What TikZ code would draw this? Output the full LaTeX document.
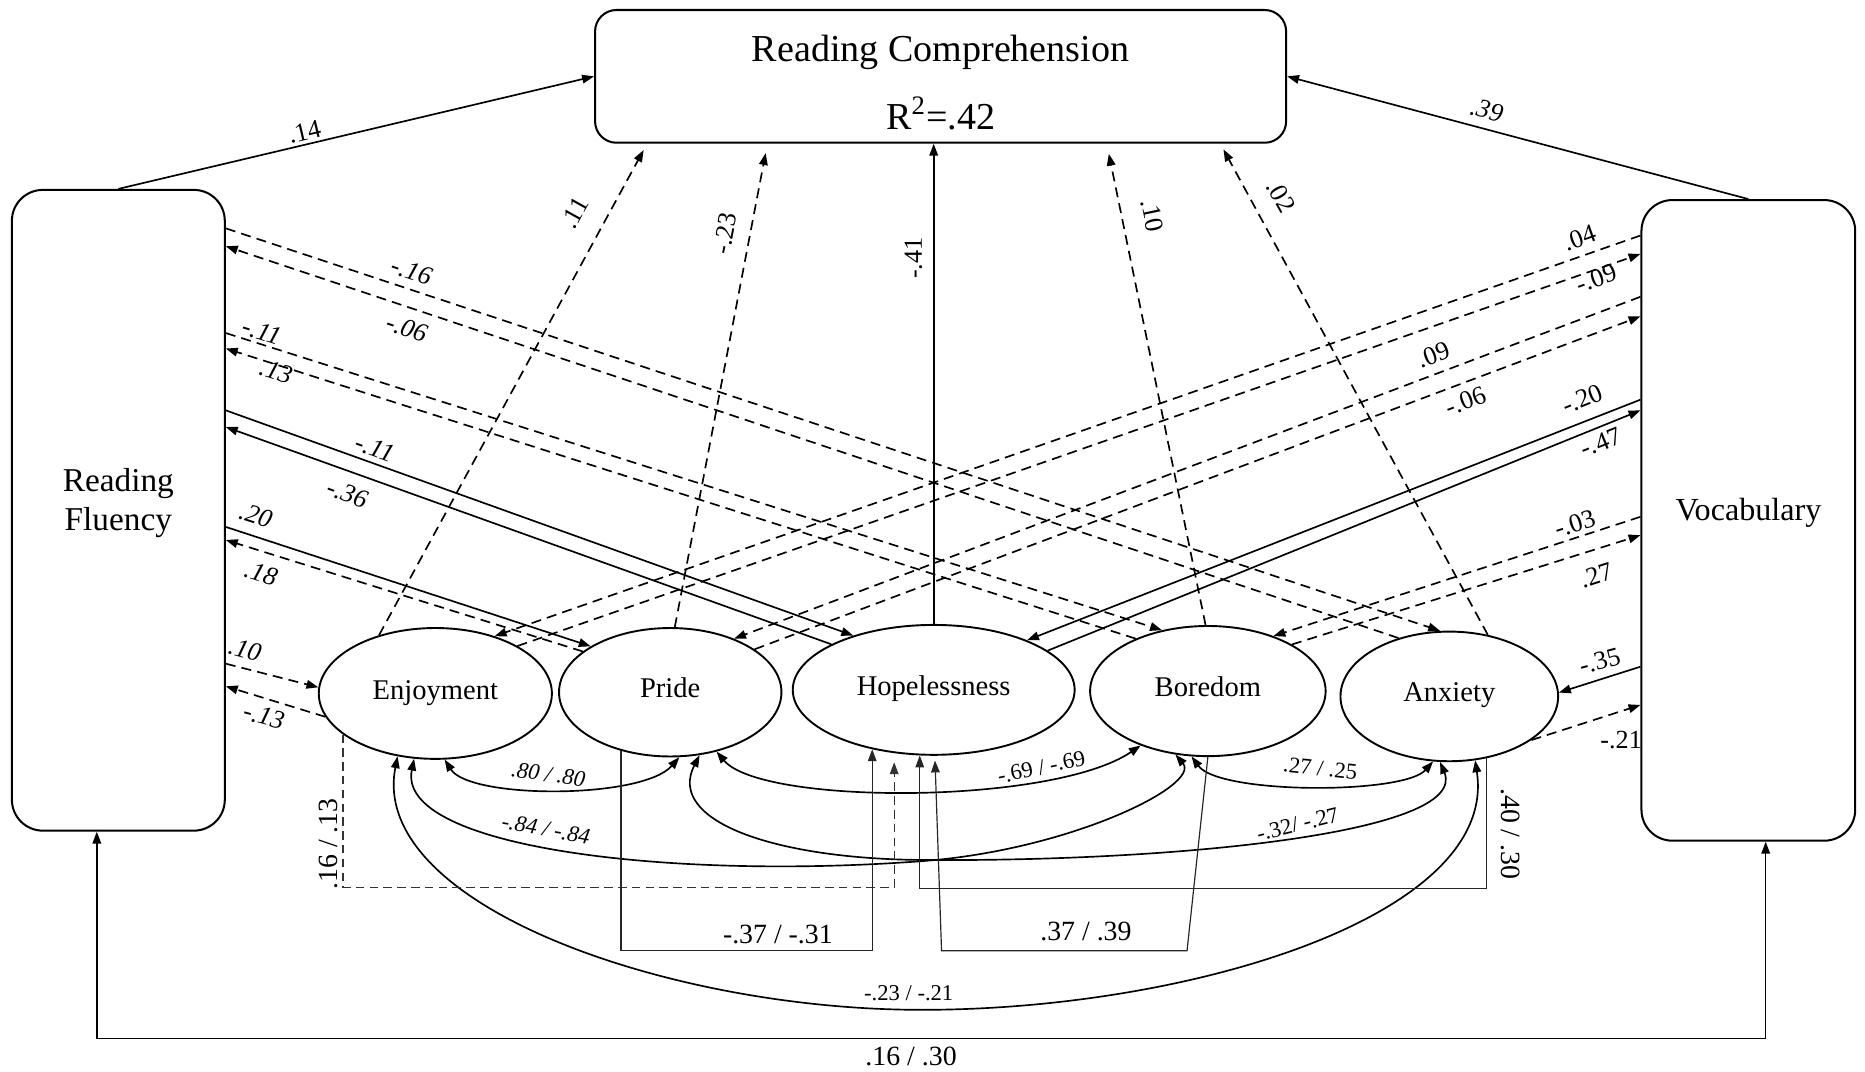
\documentclass[tikz,border=0pt]{standalone}
\usepackage{fontspec}
\setmainfont{Liberation Serif}
\usetikzlibrary{arrows.meta,shapes.geometric}
\begin{document}
\begin{tikzpicture}[x=0.5pt,y=-0.5pt,
  >={Triangle[length=5pt,width=3.6pt]},
  conn/.style={line width=0.7pt},
  dsh/.style={line width=0.7pt,dash pattern=on 4.2pt off 2.6pt},
  modline/.style={line width=0.5pt,black!85},
  moddash/.style={line width=0.55pt,black!80,dash pattern=on 3.6pt off 2.2pt},
  box/.style={draw,line width=0.85pt,inner sep=0pt},
  emo/.style={draw,ellipse,line width=0.8pt,inner sep=0pt,font=\fontsize{12}{14}\selectfont},
  lab/.style={inner sep=0.5pt,font=\fontsize{11}{13}\selectfont},
  ilab/.style={inner sep=0.5pt,font=\fontsize{11}{13}\selectfont\itshape},
  clab/.style={inner sep=0.5pt,font=\fontsize{9.5}{11}\selectfont},
  iclab/.style={inner sep=0.5pt,font=\fontsize{9.5}{11}\selectfont\itshape},
  mlab/.style={inner sep=0.5pt,font=\fontsize{11.7}{14}\selectfont},
]
\useasboundingbox (0,0) rectangle (1568,901);

% label partly hidden by the vocabulary box
\node[lab] (l21) at (1363,622) {-.21};

% observed variables
\node[box,fill=white,rounded corners=13pt,minimum width=89.5pt,minimum height=269.35pt] (rf) at (99.5,429) {};
\node[box,fill=white,rounded corners=13pt,minimum width=89.85pt,minimum height=269.3pt] (voc) at (1469.9,437.5) {};
\node[box,rounded corners=9pt,minimum width=290.5pt,minimum height=55.8pt] (rc) at (790.8,64.2) {};
\node[inner sep=0pt,font=\fontsize{16}{19}\selectfont] (rct) at (790.8,44) {Reading Comprehension};
\node[inner sep=0pt,font=\fontsize{16}{19}\selectfont] (rcr) at (790.8,95.3) {R\textsuperscript{2}=.42};
\node[inner sep=0pt,align=center,font=\fontsize{14}{16.3}\selectfont] (rft) at (99.5,423) {Reading\\Fluency};
\node[inner sep=0pt,font=\fontsize{13.5}{16}\selectfont] (voct) at (1470,431) {Vocabulary};

% emotions
\node[emo,minimum width=98pt,minimum height=55pt] (enj) at (366,583) {\raisebox{3.2pt}{Enjoyment}};
\node[emo,minimum width=93.5pt,minimum height=54pt] (pride) at (563.5,582) {\raisebox{3.5pt}{Pride}};
\node[emo,minimum width=118.5pt,minimum height=54.6pt] (hope) at (785,580) {\raisebox{3.5pt}{Hopelessness}};
\node[emo,minimum width=99pt,minimum height=54.7pt] (bor) at (1015.5,581) {\raisebox{4pt}{Boredom}};
\node[emo,minimum width=91.5pt,minimum height=54.5pt] (anx) at (1218.5,585.5) {\raisebox{3.5pt}{Anxiety}};

% paths to reading comprehension
\draw[conn,->] (rf.north) -- (rc.west);
\draw[conn,->] (voc.north) -- (rc.east);
\draw[dsh,->,shorten >=3pt] (enj.134) -- (rc.south -| 544,0);
\draw[dsh,->,shorten >=4pt] (pride.86) -- (rc.south -| 645.2,0);
\draw[conn,->] (hope.north) -- (hope.north |- rc.south);
\draw[dsh,->,shorten >=4.3pt] (bor.92) -- (rc.south -| 930.5,0);
\draw[dsh,->,shorten >=2.7pt] (anx.58) -- (rc.south -| 1026,0);

% reading fluency <-> emotions
\draw[dsh,->] (rf.east |- 0,192) -- (anx.98);
\draw[dsh,->] (anx.131) -- (rf.east |- 0,207);
\draw[dsh,->] (rf.east |- 0,280) -- (bor.127);
\draw[dsh,->] (bor.144) -- (rf.east |- 0,293);
\draw[conn,->] (rf.east |- 0,345) -- (hope.146);
\draw[conn,->] (hope.156) -- (rf.east |- 0,359);
\draw[conn,->] (rf.east |- 0,443) -- (pride.150);
\draw[dsh,->] (pride.155) -- (rf.east |- 0,454);
\draw[dsh,->] (rf.east |- 0,558) -- (enj.177);
\draw[dsh,->] (enj.192) -- (rf.east |- 0,577);

% vocabulary <-> emotions
\draw[dsh,->] (voc.west |- 0,198) -- (enj.44);
\draw[dsh,->] (enj.30) -- (voc.west |- 0,213.5);
\draw[dsh,->] (voc.west |- 0,249.5) -- (pride.40);
\draw[dsh,->] (pride.27) -- (voc.west |- 0,266);
\draw[conn,->] (voc.west |- 0,336) -- (hope.28);
\draw[conn,->] (hope.19) -- (voc.west |- 0,345);
\draw[dsh,->] (voc.west |- 0,434.5) -- (bor.40);
\draw[dsh,->] (bor.29) -- (voc.west |- 0,450);
\draw[conn,->] (voc.west |- 0,560.5) -- (anx.2);
\draw[dsh,->] (anx.332) -- (voc.west |- 0,592.7);

% covariances among emotions
\draw[conn,<->] (enj.278) .. controls (395,672) and (540,672) .. (pride.278);
\draw[conn,<->] (pride.308) .. controls (640,677) and (885,677) .. (bor.219);
\draw[conn,<->] (bor.256) .. controls (1025,668) and (1180,668) .. (anx.256);
\draw[conn,<->] (enj.252) .. controls (333,712) and (560,740) .. (775,724) .. controls (900,714.7) and (1010,660) .. (bor.243);
\draw[conn,<->] (pride.295) .. controls (560,690) and (650,722) .. (775,723) .. controls (990,724.7) and (1235,700) .. (anx.262);
\draw[conn,<->] (enj.239) .. controls (310,760) and (560,849) .. (775,849) .. controls (1000,849) and (1260,770) .. (anx.292);

% orthogonal paths into hopelessness
\draw[moddash,->,shorten >=3.8pt] (enj.204) -- (enj.204 |- 0,746) -| (hope.238);
\draw[modline,->] (pride.230) -- (pride.230 |- 0,799) -| (hope.224);
\coordinate (q3a) at (998,799.3);
\coordinate (q3b) at (791.6,799.3);
\draw[modline,->,shorten >=2pt] (bor.south) -- (q3a) -- (q3b) -- (hope.271);
\draw[modline,->] (anx.301) -- (anx.301 |- 0,746.8) -| (hope.258);

% fluency <-> vocabulary
\coordinate (bl) at (81.4,873);
\coordinate (br) at (1484.5,873);
\draw[line width=0.6pt,<->] (bl |- rf.south) -- (bl) -- (br) -- (br |- voc.south);

% labels: top
\node[lab,rotate=13.2] (t1) at (256,111) {.14};
\node[ilab,rotate=-14.8] (t2) at (1250,92.5) {.39};
\node[lab,rotate=61] (t3) at (483.5,179) {.11};
\node[lab,rotate=79] (t4) at (609.6,196) {-.23};
\node[lab,rotate=90] (t5) at (768,217) {-.41};
\node[lab,rotate=-78] (t6) at (969,181) {.10};
\node[lab,rotate=-61] (t7) at (1077,165) {.02};

% labels: left
\node[ilab,rotate=-18.5] (a1) at (346,228) {-.16};
\node[ilab,rotate=-18.5] (a2) at (342,276) {-.06};
\node[ilab,rotate=-17.6] (a3) at (220,279) {-.11};
\node[ilab,rotate=-17.6] (a4) at (232,312) {.13};
\node[ilab,rotate=-19.7] (a5) at (315,377) {-.11};
\node[ilab,rotate=-19.7] (a6) at (292,415) {-.36};
\node[ilab,rotate=-17.7] (a7) at (215,433) {.20};
\node[ilab,rotate=-17.7] (a8) at (219.5,482) {.18};
\node[ilab,rotate=-15] (a9) at (206,546) {.10};
\node[ilab,rotate=-15] (a10) at (222,602) {-.13};

% labels: right
\node[lab,rotate=19.3] (b1) at (1328,200) {.04};
\node[lab,rotate=19.3] (b2) at (1342,234) {-.09};
\node[lab,rotate=20.6] (b3) at (1205,298.5) {.09};
\node[lab,rotate=20.6] (b4) at (1232,337) {-.06};
\node[lab,rotate=21.8] (b5) at (1330.5,335.5) {-.20};
\node[lab,rotate=21.8] (b6) at (1346,372) {-.47};
\node[lab,rotate=17.7] (b7) at (1324,440) {-.03};
\node[lab,rotate=17.7] (b8) at (1342,483.5) {.27};
\node[lab,rotate=15] (b9) at (1345,556) {-.35};

% labels: covariances
\node[iclab,rotate=-8] (c1) at (461,651) {.80 / .80};
\node[clab,rotate=12] (c2) at (875.5,645) {-.69 / -.69};
\node[clab,rotate=-6] (c3) at (1110,646) {.27 / .25};
\node[iclab,rotate=-10] (c4) at (459,697) {-.84 / -.84};
\node[clab,rotate=14] (c5) at (1091,693) {-.32/ -.27};
\node[clab] (c6) at (764,835) {-.23 / -.21};

% labels: orthogonal paths
\node[mlab] (m1) at (654,786) {-.37 / -.31};
\node[mlab] (m2) at (913,783) {.37 / .39};
\node[mlab,rotate=90] (m3) at (276,709.6) {.16 / .13};
\node[mlab,rotate=-90] (m4) at (1270,701) {.40 / .30};
\node[mlab] (m5) at (766,888) {.16 / .30};
\end{tikzpicture}
\end{document}
